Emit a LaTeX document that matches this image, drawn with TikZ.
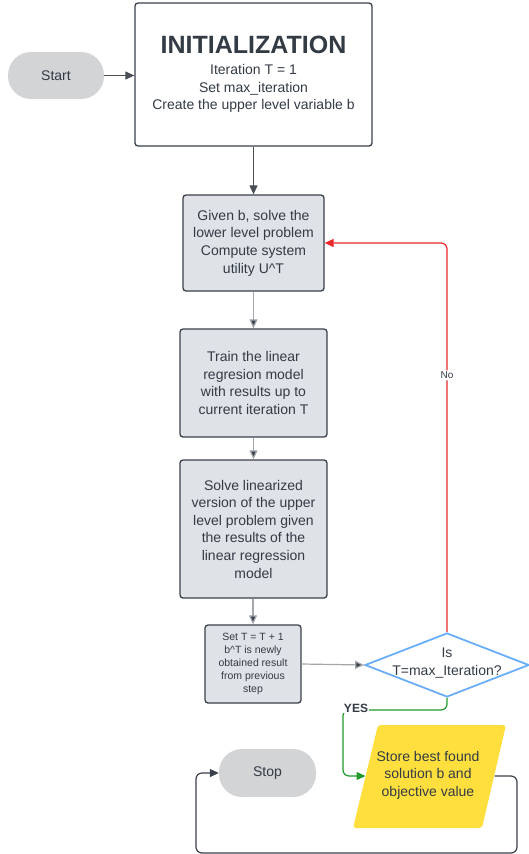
\documentclass[tikz,border=0pt]{standalone}
\usepackage{fontspec}
\setmainfont{Liberation Sans}
\usetikzlibrary{shapes.geometric,arrows.meta}
\definecolor{txt}{HTML}{333B45}
\definecolor{edge}{HTML}{3A414A}
\definecolor{boxfill}{HTML}{DFE2E7}
\definecolor{pill}{HTML}{D3D4D6}
\definecolor{conn}{HTML}{A3A7AC}
\definecolor{darkconn}{HTML}{4A4F55}
\definecolor{nored}{HTML}{E8282B}
\definecolor{yesgreen}{HTML}{1E9A2A}
\definecolor{diablue}{HTML}{6AAEF7}
\definecolor{storeyellow}{HTML}{FFDF3E}
\tikzset{
  x=1pt, y=-1pt,
  every node/.style={text=txt, font=\fontsize{14}{17.6}\selectfont},
  procbox/.style={draw=edge, line width=1.3pt, fill=boxfill, rounded corners=3pt, inner sep=0pt, align=center},
  initbox/.style={draw=edge, line width=1.3pt, fill=white, rounded corners=3pt, inner sep=0pt, align=center},
  terminal/.style={fill=pill, rounded corners=23pt, inner sep=0pt, align=center},
  flow/.style={line width=1.2pt, -{Triangle[length=9pt,width=8pt]}},
  greyflow/.style={flow, draw=conn, -{Triangle[length=9pt,width=8pt,fill=edge]}},
}
\begin{document}
\begin{tikzpicture}
\useasboundingbox (0,0) rectangle (529,854);
% nodes
\node[terminal, minimum width=96pt, minimum height=47pt] (start) at (56,75.5) {Start};
\node[initbox, minimum width=237pt, minimum height=143pt] (init) at (253.5,74.5) {};
\node (inittitle) at (253.5,45) {\fontsize{25}{28}\selectfont\bfseries INITIALIZATION};
\node[align=center] (inittext) at (253.5,88.5) {Iteration T = 1\\Set max\_iteration\\Create the upper level variable b};
\node[procbox, minimum width=141pt, minimum height=96pt] (box1) at (253.5,243) {Given b, solve the\\lower level problem\\Compute system\\utility U\textasciicircum T};
\node[procbox, minimum width=147pt, minimum height=108pt] (box2) at (253.5,383) {Train the linear\\regresion model\\with results up to\\current iteration T};
\node[procbox, minimum width=147pt, minimum height=138pt] (box3) at (253.5,529) {Solve linearized\\version of the upper\\level problem given\\the results of the\\linear regression\\model};
\node[procbox, minimum width=96pt, minimum height=78pt, font=\fontsize{10.5}{13}\selectfont] (box4) at (253,664) {Set T = T + 1\\b\textasciicircum T is newly\\obtained result\\from previous\\step};
\node[draw=diablue, line width=1.8pt, shape=diamond, minimum width=164pt, minimum height=64pt, inner sep=0pt] (dec) at (447,665) {};
\node[align=center] (dectext) at (447,663) {Is\\T=max\_Iteration?};
% store parallelogram
\coordinate (sTL) at (378,725);
\coordinate (sTR) at (506,725);
\coordinate (sBR) at (482,828);
\coordinate (sBL) at (353,828);
\fill[storeyellow, rounded corners=3pt] (sTL) -- (sTR) -- (sBR) -- (sBL) -- cycle;
\node[align=center] (store) at (428,775) {Store best found\\solution b and\\objective value};
\coordinate (storeL) at (365.5,776);
\coordinate (storeR) at (494.5,776);
\node[terminal, minimum width=97pt, minimum height=48pt] (stop) at (267.5,773) {Stop};
% connectors
\draw[flow, draw=darkconn] (start.east) -- (init.west |- start.east);
\draw[flow, draw=darkconn] (init.south -| box1.north) -- (box1.north);
\draw[greyflow] (box1.south) -- (box2.north);
\draw[greyflow] (box2.south) -- (box3.north);
\draw[greyflow] (box3.south -| box4.north) -- (box4.north);
\draw[greyflow] (box4.east) -- (dec.west);
\draw[flow, draw=nored, rounded corners=6pt] (dec.north) |- (box1.east)
  node[pos=0.33, fill=white, inner sep=1.5pt, font=\fontsize{10}{12}\selectfont] (nolabel) {No};
\coordinate (g1) at (447,710);
\coordinate (g2) at (343,710);
\draw[flow, draw=yesgreen, rounded corners=6pt] (dec.south) -- (g1) -- (g2) -- (g2 |- storeL) -- (storeL);
\node[fill=white, inner sep=0.5pt, font=\fontsize{12}{14}\selectfont\bfseries] (yes) at (356,708) {YES};
\coordinate (b1) at (517,776);
\coordinate (b2) at (517,853);
\coordinate (b3) at (196,853);
\draw[flow, draw=edge, rounded corners=6pt] (storeR) -- (b1) -- (b2) -- (b3) -- (b3 |- stop.west) -- (stop.west);
\end{tikzpicture}
\end{document}
